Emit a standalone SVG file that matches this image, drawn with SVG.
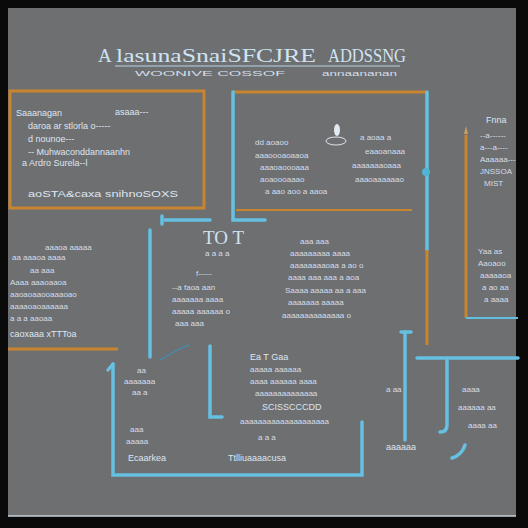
<svg xmlns="http://www.w3.org/2000/svg" width="528" height="528" viewBox="0 0 528 528">
<defs>
<style>
.t{font-family:"Liberation Sans",Arial,sans-serif;fill:#dde6f1;font-size:9px}
.ts{font-family:"Liberation Sans",Arial,sans-serif;fill:#d3deec;font-size:8px}
.tb{font-family:"Liberation Serif",serif;fill:#cfe3f2;font-size:19px}
.bl{stroke:#66c0e2;stroke-width:3.5;fill:none;stroke-linecap:round}
.bld{stroke:#3a92bb;stroke-width:1.2;fill:none}
.or{stroke:#c9842f;stroke-width:3;fill:none}
</style>
</defs>
<rect x="0" y="0" width="528" height="528" fill="#0a0a0a"/>
<rect x="8" y="8" width="508" height="508" fill="#6e6f71"/>
<line x1="8" y1="516" x2="516" y2="516" stroke="#c8d2da" stroke-width="1.5"/>

<g id="title">
<text class="tb" x="98" y="62" font-size="26">A</text>
<text class="tb" x="116" y="62" textLength="200" lengthAdjust="spacingAndGlyphs">lasunaSnaiSFCJRE</text>
<text class="tb" x="328" y="62" textLength="78" lengthAdjust="spacingAndGlyphs">ADDSSNG</text>
<text class="ts" x="135" y="76" textLength="150" lengthAdjust="spacingAndGlyphs">WOONIVE COSSOF</text>
<text class="ts" x="322" y="76" textLength="75" lengthAdjust="spacingAndGlyphs">annaananan</text>
<line x1="115" y1="66" x2="400" y2="66" stroke="#b7d4e6" stroke-width="1"/>
</g>

<g id="box1">
<rect x="10" y="91" width="194" height="117" fill="none" stroke="#c9842f" stroke-width="3"/>
<text class="t" x="16" y="116">Saaanagan</text>
<text class="t" x="115" y="115">asaaa---</text>
<text class="t" x="28" y="129">daroa ar   stlorla o-----</text>
<text class="t" x="28" y="142">d        nounoe---</text>
<text class="t" x="28" y="155">-- Muhwaconddannaanhn</text>
<text class="t" x="22" y="166">a Ardro    Surela--l</text>
<text class="t" x="28" y="197" fill="#a9d0ef" textLength="150" lengthAdjust="spacingAndGlyphs">aoSTA&amp;caxa snihnoSOXS</text>
</g>

<g id="box2">
<line x1="234" y1="92" x2="426" y2="92" class="or"/>
<line x1="233" y1="92" x2="233" y2="208" class="bl"/>
<line x1="236" y1="210" x2="412" y2="210" stroke="#c9842f" stroke-width="2"/>
<ellipse cx="337" cy="130" rx="3" ry="6" fill="#e2ebf3"/>
<ellipse cx="336" cy="141" rx="10" ry="4" fill="none" stroke="#d9e3ef"/>
<text class="ts" x="255" y="145">dd aoaoo</text>
<text class="ts" x="360" y="140">a  aoaa a</text>
<text class="ts" x="255" y="158">aaaoooaoaaoa</text>
<text class="ts" x="365" y="154">eaaoanaaa</text>
<text class="ts" x="260" y="170">aaaoaoooaaa</text>
<text class="ts" x="352" y="168">aaaaaaaoaaa</text>
<text class="ts" x="260" y="182">aoaoooaaao</text>
<text class="ts" x="355" y="182">aaaoaaaaaao</text>
<text class="ts" x="265" y="194">a aao aoo    a  aaoa</text>
</g>

<g id="box3">
<line x1="466" y1="135" x2="466" y2="318" class="or"/>
<polygon points="464,134 468,134 466,126" fill="#c9a060"/>
<line x1="466" y1="318" x2="518" y2="318" stroke="#62bfe0" stroke-width="2"/>
<text class="t" x="486" y="123">Fnna</text>
<text class="ts" x="480" y="138">--a------</text>
<text class="ts" x="480" y="150">a---a----</text>
<text class="ts" x="480" y="162">Aaaaaa---</text>
<text class="ts" x="480" y="174">JNSSOA</text>
<text class="ts" x="484" y="186">MIST</text>
<text class="ts" x="478" y="254">Yaa as</text>
<text class="ts" x="478" y="266">Aaoaoo</text>
<text class="ts" x="480" y="278">aaaaaoa</text>
<text class="ts" x="482" y="290">a ao aa</text>
<text class="ts" x="484" y="302">a aaaa</text>
</g>

<g id="block4">
<text class="ts" x="45" y="250">aaaoa  aaaaa</text>
<text class="ts" x="12" y="260">aa   aaaoa  aaaa</text>
<text class="ts" x="30" y="273">aa      aaa</text>
<text class="ts" x="10" y="285">Aaaa aaaoaaoa</text>
<text class="ts" x="10" y="297">aaoaoaaooaaaoao</text>
<text class="ts" x="10" y="309">aaaaoaoaaaaaa</text>
<text class="ts" x="10" y="321">a  a a    aaoaa</text>
<text class="t" x="10" y="337" fill="#a9d0ef">caoxaaa xTTToa</text>
<line x1="8" y1="349" x2="118" y2="349" class="or"/>
</g>

<g id="block5">
<text class="tb" x="203" y="244" font-size="17">TO T</text>
<text class="ts" x="205" y="256">a a  a a</text>
<text class="ts" x="196" y="276">f-----</text>
<text class="ts" x="172" y="290">--a faoa aan</text>
<text class="ts" x="172" y="302">aaaaaaa aaaa</text>
<text class="ts" x="172" y="314">aaaaa aaaaaa o</text>
<text class="ts" x="175" y="326">aaa  aaa</text>
<text class="ts" x="300" y="244">aaa   aaa</text>
<text class="ts" x="290" y="256">aaaaaaaaa aaaa</text>
<text class="ts" x="290" y="268">aaaaaaaaoaa a ao o</text>
<text class="ts" x="288" y="280">aaaa aaa aaa a aoa</text>
<text class="ts" x="285" y="293">Saaaa aaaaa aa a aaa</text>
<text class="ts" x="288" y="305">aaaaaaa  aaaaa</text>
<text class="ts" x="282" y="318">aaaaaaaaaaaaaa o</text>
</g>

<g id="box6">
<text class="ts" x="137" y="373">aa</text>
<text class="ts" x="124" y="384">aaaaaaa</text>
<text class="ts" x="132" y="395">aa a</text>
<text class="t" x="250" y="360">Ea T Gaa</text>
<text class="ts" x="250" y="372">aaaaa aaaaaa</text>
<text class="ts" x="250" y="384">aaaa aaaaaa aaaa</text>
<text class="ts" x="255" y="396">aaaaaaaaaaaaaa</text>
<text class="t" x="262" y="410">SCISSCCCDD</text>
<text class="ts" x="240" y="424">aaaaaaaaaaaaaaaaaaaa</text>
<text class="ts" x="258" y="440">a a  a</text>
<text class="ts" x="130" y="432">aaa</text>
<text class="ts" x="126" y="444">aaaaa</text>
<text class="t" x="128" y="461" fill="#bcd6ee">Ecaarkea</text>
<text class="t" x="228" y="461" fill="#bcd6ee">Ttlliuaaaacusa</text>
</g>

<g id="block7">
<text class="ts" x="386" y="392">a aa</text>
<text class="ts" x="462" y="392">aaaa</text>
<text class="ts" x="458" y="410">aaaaaa aa</text>
<text class="ts" x="468" y="428">aaaa aa</text>
<text class="t" x="386" y="450">aaaaaa</text>
</g>

<g id="connectors">
<path class="bl" d="M165 220 L210 220"/>
<path class="bl" d="M162 216 L162 224" stroke-width="3"/>
<path class="bl" d="M233 208 L233 220 L265 220"/>
<path class="bl" d="M150 230 L150 357"/>
<path class="bl" d="M113 364 L113 475 L362 475 L362 422"/>
<path class="bl" d="M113 364 L108 370" stroke-width="3"/>
<path class="bld" d="M160 360 Q185 345 190 345"/>
<path class="bl" d="M210 346 L210 417 L222 417"/>
<path class="bl" d="M427 92 L427 250"/>
<line x1="427" y1="250" x2="427" y2="345" stroke="#c9842f" stroke-width="3"/>
<circle cx="426" cy="172" r="4" fill="#4fb4d6"/>
<path class="bl" d="M405 332 L405 440"/>
<path class="bl" d="M401 332 L411 332" stroke-width="3"/>
<path class="bl" d="M417 358 L518 358"/>
<path class="bl" d="M447 358 L447 425 Q447 432 440 432"/>
<path class="bl" d="M465 445 Q462 455 452 458"/>
</g>
</svg>
